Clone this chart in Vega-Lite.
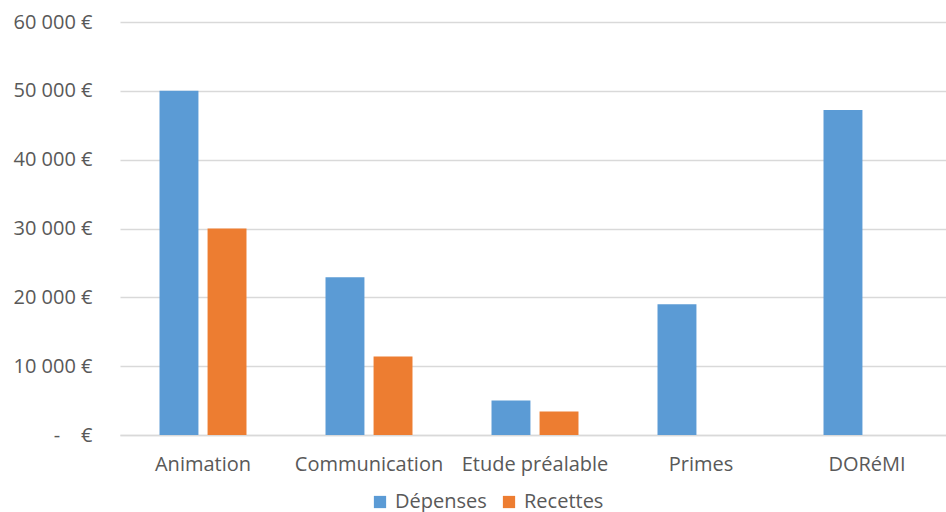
{
  "$schema": "https://vega.github.io/schema/vega-lite/v6.json",
  "width": 830,
  "height": 413,
  "autosize": {"type": "none"},
  "padding": {"left": 120, "top": 22, "right": -4, "bottom": 77},
  "background": "white",
  "config": {
    "view": {"stroke": null},
    "font": "Open Sans",
    "axis": {"labelFont": "Open Sans", "labelColor": "#595959"},
    "legend": {"labelFont": "Open Sans"}
  },
  "data": {
    "values": [
      {"categorie": "Animation", "type": "Dépenses", "montant": 50000},
      {"categorie": "Animation", "type": "Recettes", "montant": 30000},
      {"categorie": "Communication", "type": "Dépenses", "montant": 22900},
      {"categorie": "Communication", "type": "Recettes", "montant": 11400},
      {"categorie": "Etude préalable", "type": "Dépenses", "montant": 5000},
      {"categorie": "Etude préalable", "type": "Recettes", "montant": 3400},
      {"categorie": "Primes", "type": "Dépenses", "montant": 19000},
      {"categorie": "DORéMI", "type": "Dépenses", "montant": 47200}
    ]
  },
  "mark": {"type": "bar"},
  "encoding": {
    "x": {
      "field": "categorie",
      "type": "nominal",
      "sort": ["Animation", "Communication", "Etude préalable", "Primes", "DORéMI"],
      "scale": {"paddingInner": 0.476, "paddingOuter": 0.238},
      "axis": {
        "title": null,
        "labelAngle": 0,
        "labelFontSize": 20,
        "labelPadding": 19,
        "ticks": false,
        "domain": true,
        "domainColor": "#d9d9d9",
        "domainWidth": 1.5
      }
    },
    "xOffset": {
      "field": "type",
      "type": "nominal",
      "sort": ["Dépenses", "Recettes"],
      "scale": {"domain": ["Dépenses", "Recettes"], "paddingInner": 0.19, "paddingOuter": 0}
    },
    "y": {
      "field": "montant",
      "type": "quantitative",
      "scale": {"domain": [0, 60000], "nice": false},
      "axis": {
        "title": null,
        "values": [0, 10000, 20000, 30000, 40000, 50000, 60000],
        "labelExpr": "datum.value == 0 ? '-\u00a0\u00a0\u00a0\u00a0€' : replace(format(datum.value, ',.0f'), ',', ' ') + ' €'",
        "labelFontSize": 20,
        "labelPadding": 28,
        "ticks": false,
        "domain": false,
        "grid": true,
        "gridColor": "#d9d9d9",
        "gridWidth": 1.3
      }
    },
    "color": {
      "field": "type",
      "type": "nominal",
      "scale": {"domain": ["Dépenses", "Recettes"], "range": ["#5b9bd5", "#ed7d31"]},
      "legend": {
        "title": null,
        "orient": "none",
        "direction": "horizontal",
        "legendX": 250,
        "legendY": 470,
        "symbolType": "square",
        "symbolSize": 150,
        "symbolStrokeWidth": 0,
        "labelFontSize": 20,
        "labelColor": "#595959",
        "columnPadding": 12,
        "labelOffset": 5
      }
    }
  }
}
